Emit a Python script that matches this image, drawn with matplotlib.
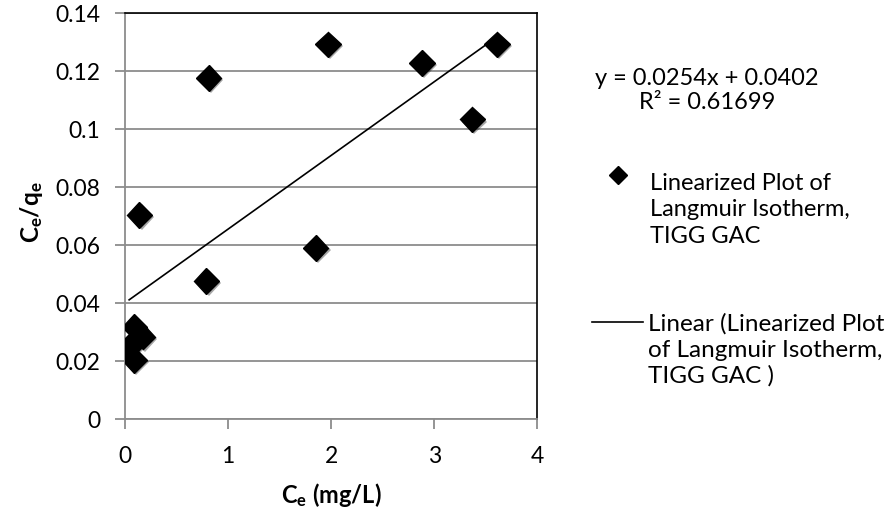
import matplotlib
matplotlib.use("Agg")
import matplotlib.pyplot as plt
import matplotlib.patheffects as pe
from matplotlib.lines import Line2D
import numpy as np

plt.rcParams['font.family'] = ['Lato', 'DejaVu Sans']
plt.rcParams['mathtext.fontset'] = 'custom'
plt.rcParams['mathtext.rm'] = 'Lato'
plt.rcParams['mathtext.bf'] = 'Lato:bold'

# data
ce = [1.97, 3.61, 2.88, 0.81, 3.37, 0.14, 1.85, 0.79, 0.09, 0.17, 0.04, 0.09]
ce_qe = [0.1293, 0.1293, 0.1228, 0.1176, 0.1034, 0.0705, 0.059, 0.0478,
         0.032, 0.0285, 0.025, 0.0205]
slope = 0.0254
intercept = 0.0402
eq_text = "y = 0.0254x + 0.0402"
r2_text = "R² = 0.61699"
series_label = "Linearized Plot of\nLangmuir Isotherm,\nTIGG GAC"
trend_label = "Linear (Linearized Plot\nof Langmuir Isotherm,\nTIGG GAC )"

fig = plt.figure(figsize=(8.93, 5.21), dpi=100)
ax = fig.add_axes([0.14, 0.195, 0.4617, 0.7795])

shadow = [pe.SimplePatchShadow(offset=(1.5, -1.5), alpha=0.35), pe.Normal()]
ax.plot(ce, ce_qe, 'D', color='black', markersize=13, linestyle='none',
        path_effects=shadow, zorder=3)

xfit = np.array([min(ce), max(ce)])
ax.plot(xfit, slope * xfit + intercept, '-', color='black', linewidth=1.2, zorder=2)

ax.set_xlim(0, 4)
ax.set_ylim(0, 0.14)
ax.set_xticks([0, 1, 2, 3, 4])
ax.set_yticks(np.arange(0, 0.141, 0.02))
ax.set_yticklabels(['0', '0.02', '0.04', '0.06', '0.08', '0.1', '0.12', '0.14'])
ax.yaxis.grid(True, color='#8c8c8c', linewidth=1.3)
ax.set_axisbelow(True)
ax.tick_params(direction='out', length=7, width=1.3, color='#8c8c8c',
               labelsize=16.5)
ax.tick_params(axis='y', pad=11)
ax.tick_params(axis='x', pad=12)
for s in ['left', 'bottom']:
    ax.spines[s].set_color('#8c8c8c')
    ax.spines[s].set_linewidth(1.3)
for s in ['top', 'right']:
    ax.spines[s].set_color('black')
    ax.spines[s].set_linewidth(1.2)

ax.set_xlabel(r'$\mathbf{C_e}$ (mg/L)', fontsize=17, fontweight='bold')
ax.xaxis.set_label_coords(0.5, -0.187)
ax.xaxis.label.set_va('center')
ax.set_ylabel(r'$\mathbf{C_e/q_e}$', fontsize=17.5, fontweight='bold')
ax.yaxis.set_label_coords(-0.228, 0.51)
ax.yaxis.label.set_va('center')

# legend / equation on the right
fig.text(0.7917, 0.850, eq_text, fontsize=17, ha='center', va='center')
fig.text(0.7917, 0.804, r2_text, fontsize=17, ha='center', va='center')
fig.add_artist(Line2D([0.692], [0.664], marker='D', color='black', markersize=9,
                      linestyle='none', transform=fig.transFigure))
fig.text(0.7279, 0.597, series_label, fontsize=17, va='center', linespacing=1.3)
fig.add_artist(Line2D([0.663, 0.720], [0.382, 0.382], color='black', linewidth=1.2,
                      transform=fig.transFigure))
fig.text(0.7255, 0.328, trend_label, fontsize=17.5, va='center', linespacing=1.27)

fig.savefig('out.png', dpi=100)
